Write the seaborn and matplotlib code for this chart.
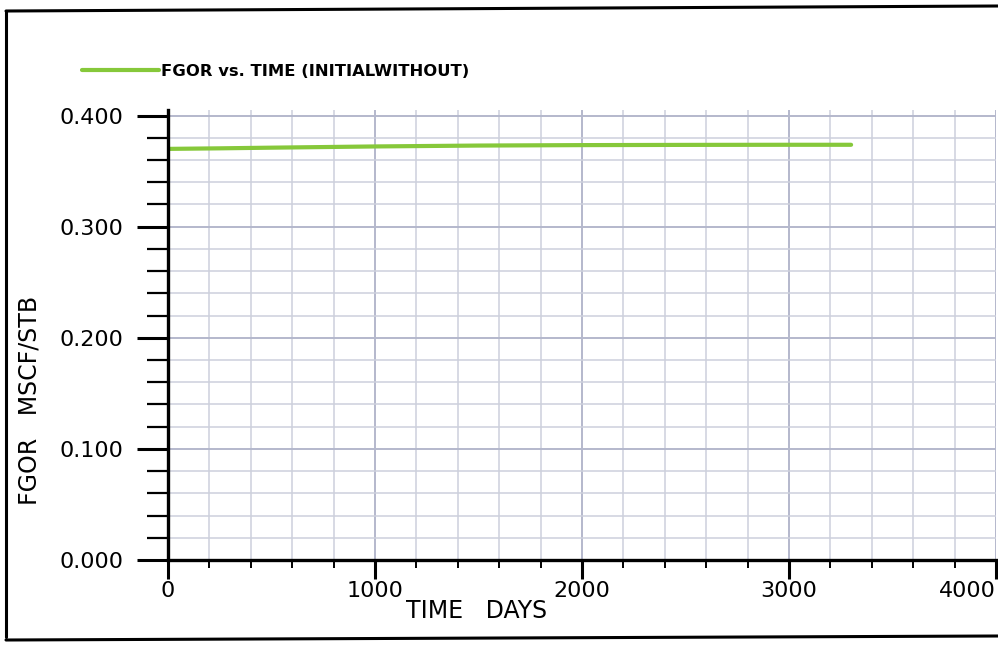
import matplotlib
matplotlib.use("Agg")
import matplotlib.pyplot as plt
from matplotlib.lines import Line2D
from matplotlib.ticker import MultipleLocator
import numpy as np
import pandas as pd
import seaborn as sns

# Field gas-oil ratio over time
time_days = [0, 250, 500, 1000, 1500, 2000, 2500, 3000, 3300]
fgor = [0.3700, 0.3705, 0.3711, 0.3722, 0.3730, 0.3734, 0.3736, 0.3737, 0.3737]
series_label = "FGOR vs. TIME (INITIALWITHOUT)"
x_major_ticks = [0, 1000, 2000, 3000, 4000]
y_major_ticks = [0.0, 0.1, 0.2, 0.3, 0.4]
y_tick_labels = ["0.000", "0.100", "0.200", "0.300", "0.400"]

df = pd.DataFrame({"TIME": time_days, "FGOR": fgor})

sns.set_theme(style="white")
plt.rcParams["font.family"] = ["DejaVu Sans"]

W, H = 998, 647
fig = plt.figure(figsize=(W / 100, H / 100), dpi=100)
ax = fig.add_axes([168 / W, 1 - 560 / H, (996 - 168) / W, (560 - 110) / H])

sns.lineplot(data=df, x="TIME", y="FGOR", ax=ax, color="#86c83a",
             linewidth=3.0, label=series_label)

ax.set_xlim(0, 4000)
ax.set_ylim(0, 0.405)

ax.set_xticks(x_major_ticks)
ax.set_xticklabels([str(t) for t in x_major_ticks])
ax.xaxis.set_minor_locator(MultipleLocator(200))
ax.set_yticks(y_major_ticks)
ax.set_yticklabels(y_tick_labels)
ax.yaxis.set_minor_locator(MultipleLocator(0.02))

# last x label sits inside the right edge
xl = ax.get_xticklabels()
xl[-1].set_horizontalalignment("right")

ax.grid(True, which="major", color="#b4b8cc", linewidth=1.4)
ax.grid(True, which="minor", color="#cdd0dc", linewidth=1.1)
ax.set_axisbelow(True)

for side in ("top", "right"):
    ax.spines[side].set_visible(False)
for side in ("left", "bottom"):
    ax.spines[side].set_color("black")
    ax.spines[side].set_linewidth(2.4)

ax.tick_params(axis="y", which="major", direction="out", length=22, width=2.2,
               color="black", labelsize=16, pad=10, left=True)
ax.tick_params(axis="y", which="minor", direction="out", length=15, width=1.6,
               color="black", left=True)
ax.tick_params(axis="x", which="major", direction="out", length=14, width=2.2,
               color="black", labelsize=16, pad=1, bottom=True)
ax.tick_params(axis="x", which="minor", direction="out", length=6, width=1.4,
               color="black", bottom=True)
for lab in ax.get_xticklabels() + ax.get_yticklabels():
    lab.set_color("black")

ax.set_xlabel("")
ax.set_ylabel("")
fig.text(477 / W, 1 - 611 / H, "TIME   DAYS", ha="center", va="center",
         fontsize=17, color="black")
fig.text(30 / W, 1 - 400 / H, "FGOR   MSCF/STB", ha="center", va="center",
         rotation=90, fontsize=17, color="black")

leg = ax.legend(loc="center left", bbox_to_anchor=(82 / W, 1 - 71 / H),
                bbox_transform=fig.transFigure, frameon=False,
                handlelength=4.7, handletextpad=0.1,
                prop={"size": 11.8, "weight": "bold"},
                borderpad=0, borderaxespad=0)
for t in leg.get_texts():
    t.set_color("black")

# page frame
lw = 2.2
fig.add_artist(Line2D([6 / W, 6 / W], [1 - 11 / H, 1 - 637 / H],
                      transform=fig.transFigure, color="black", linewidth=lw))
fig.add_artist(Line2D([6 / W, 1.0], [1 - 11 / H, 1 - 6 / H],
                      transform=fig.transFigure, color="black", linewidth=lw))
fig.add_artist(Line2D([6 / W, 1.0], [1 - 640 / H, 1 - 636 / H],
                      transform=fig.transFigure, color="black", linewidth=lw))

fig.savefig("out.png", dpi=100, facecolor="white")
